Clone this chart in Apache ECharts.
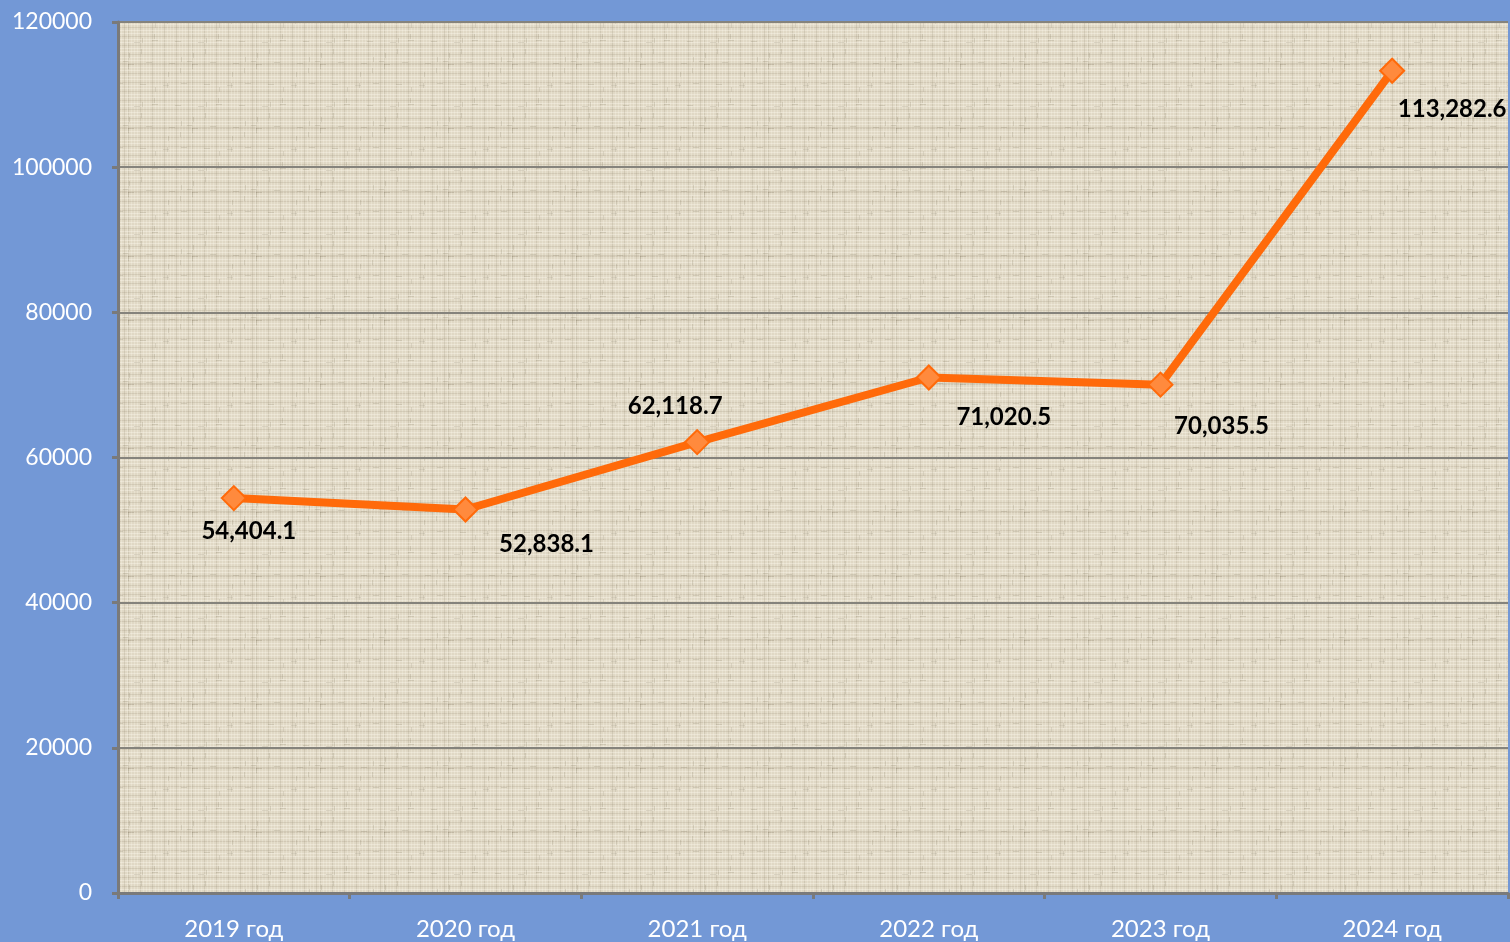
<!DOCTYPE html>
<html>
<head>
<meta charset="utf-8">
<script src="https://cdn.jsdelivr.net/npm/echarts@6/dist/echarts.min.js"></script>
<style>
html, body { margin: 0; padding: 0; background: #7398d6; }
#chart { width: 1510px; height: 942px; }
</style>
</head>
<body>
<div id="chart"></div>
<script>
var years = ['2019 год', '2020 год', '2021 год', '2022 год', '2023 год', '2024 год'];
var values = [54404.1, 52838.1, 62118.7, 71020.5, 70035.5, 113282.6];
var yTicks = [0, 20000, 40000, 60000, 80000, 100000, 120000];

// where each value label sits around its point
var labelPlace = [
	{ position: 'bottom', offset: [15, 3] },
	{ position: 'bottom', offset: [81, 5] },
	{ position: 'top', offset: [-22, -6] },
	{ position: 'bottom', offset: [75, 10] },
	{ position: 'bottom', offset: [61, 12] },
	{ position: 'bottom', offset: [60, 9] }
];

// linen-like backdrop for the plot area, drawn with fixed strokes
function makeLinen() {
	var c = document.createElement('canvas');
	c.width = 64; c.height = 64;
	var g = c.getContext('2d');
	g.fillStyle = '#e0d8c5';
	g.fillRect(0, 0, 64, 64);
	var i;
	for (i = 0; i < 64; i += 3) {
		g.fillStyle = (i % 9 === 0) ? 'rgba(150,140,115,0.2)' : 'rgba(255,252,240,0.35)';
		g.fillRect(0, i, 64, 1);
		g.fillStyle = (i % 12 === 0) ? 'rgba(140,130,105,0.18)' : 'rgba(250,246,232,0.3)';
		g.fillRect(i, 0, 1, 64);
	}
	for (i = 0; i < 64; i += 7) {
		g.fillStyle = 'rgba(120,110,90,0.18)';
		g.fillRect((i * 5) % 64, (i * 3) % 64, 6, 1);
		g.fillRect((i * 11) % 64, (i * 7) % 64, 1, 5);
	}
	return c;
}

var chart = echarts.init(document.getElementById('chart'));

var points = values.map(function (v, i) {
	return {
		value: v,
		label: { position: labelPlace[i].position, offset: labelPlace[i].offset }
	};
});

chart.setOption({
	backgroundColor: '#7398d6',
	animation: false,
	grid: {
		left: 118, right: 2, top: 22, bottom: 49,
		show: true,
		backgroundColor: { image: makeLinen(), repeat: 'repeat' },
		borderWidth: 0
	},
	xAxis: {
		type: 'category',
		data: years,
		boundaryGap: true,
		axisLine: { lineStyle: { color: '#7a7a7a', width: 3 } },
		axisTick: { show: true, length: 6, lineStyle: { color: '#7a7a7a', width: 3 } },
		axisLabel: { color: '#ffffff', fontFamily: 'Lato', fontSize: 24, margin: 24 }
	},
	yAxis: {
		type: 'value',
		min: yTicks[0],
		max: yTicks[yTicks.length - 1],
		interval: yTicks[1] - yTicks[0],
		axisLine: { show: true, lineStyle: { color: '#7a7a7a', width: 3 } },
		axisTick: { show: true, length: 6, lineStyle: { color: '#7a7a7a', width: 3 } },
		axisLabel: {
			color: '#ffffff', fontFamily: 'Lato', fontSize: 23, margin: 26,
			formatter: function (v) { return String(v); }
		},
		splitLine: { show: true, lineStyle: { color: '#85837c', width: 2 } }
	},
	series: [{
		type: 'line',
		data: points,
		symbol: 'diamond',
		symbolSize: 24,
		lineStyle: { color: '#ff6a0a', width: 8 },
		itemStyle: { color: '#ff8a3d', borderColor: '#ff6a0a', borderWidth: 2 },
		label: {
			show: true,
			color: '#000000',
			fontFamily: 'Lato',
			fontWeight: 'bold',
			fontSize: 24,
			formatter: function (p) {
				return p.value.toLocaleString('en-US', { minimumFractionDigits: 1, maximumFractionDigits: 1 });
			}
		}
	}]
});
</script>
</body>
</html>
